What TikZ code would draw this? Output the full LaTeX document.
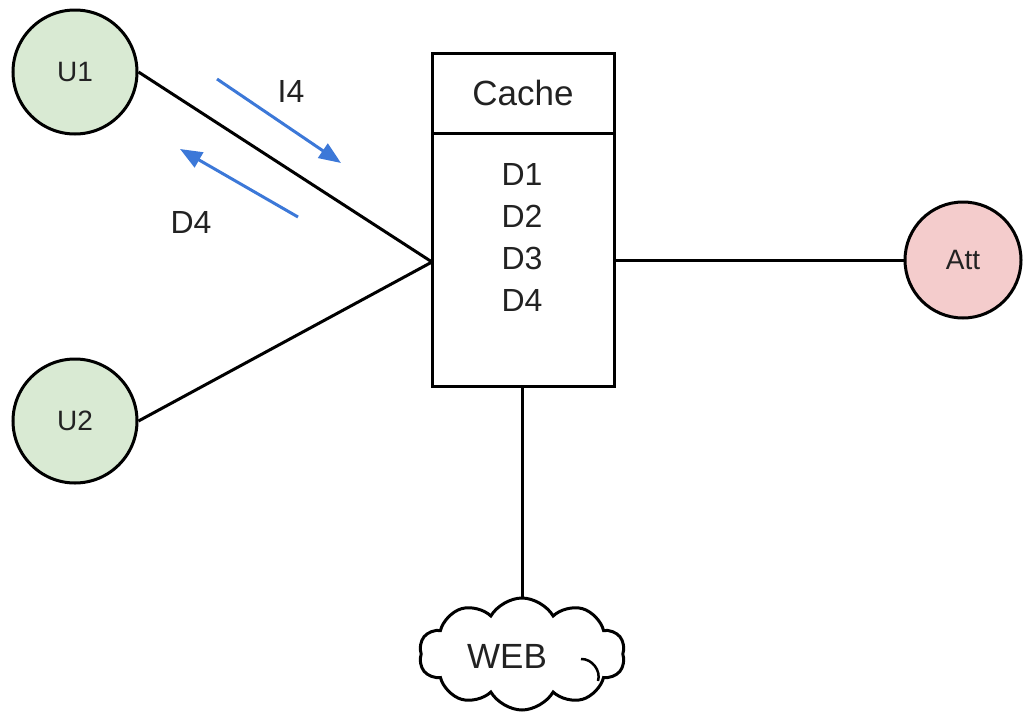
\documentclass[tikz,border=0pt]{standalone}
\usepackage{fontspec}
\setmainfont{Liberation Sans}
\usetikzlibrary{arrows.meta,shapes.symbols}
\definecolor{ugreen}{HTML}{D9EAD3}
\definecolor{apink}{HTML}{F4CCCC}
\definecolor{ablue}{HTML}{3C78D8}
\definecolor{txt}{HTML}{222222}
\tikzset{
  peer/.style={circle,draw=black,line width=3pt,minimum size=124pt,inner sep=0pt,text=txt,font=\fontsize{28pt}{34pt}\selectfont},
  conn/.style={draw=black,line width=3pt},
  flow/.style={draw=ablue,line width=3pt,-{Triangle[length=22pt,width=17pt]}},
  lbl/.style={text=txt,font=\fontsize{32pt}{38pt}\selectfont,inner sep=0pt,anchor=base},
}
\begin{document}
\begin{tikzpicture}[x=1pt,y=-1pt]
\useasboundingbox (0,0) rectangle (1023,715);
% nodes
\node[peer,fill=ugreen] (U1) at (75,72) {U1};
\node[peer,fill=ugreen] (U2) at (75,421) {U2};
\node[peer,fill=apink,minimum size=116pt] (Att) at (963,260) {Att};
\node[draw=black,line width=3pt,minimum width=182pt,minimum height=333pt,inner sep=0pt] (box) at (523,219.5) {};
\coordinate (hl) at (432,133);
\coordinate (hr) at (614,133);
\draw[conn] (hl) -- (hr);
\node[lbl,font=\fontsize{35pt}{40pt}\selectfont] (cache) at (523,105) {Cache};
\node[lbl] (d1) at (522,185) {D1};
\node[lbl] (d2) at (522,227) {D2};
\node[lbl] (d3) at (522,269) {D3};
\node[lbl] (d4) at (522,311) {D4};
\node[cloud,draw=black,line width=3pt,cloud puffs=10,cloud puff arc=120,aspect=1.8,minimum width=206pt,minimum height=112pt,inner sep=0pt] (web) at (522,654) {};
\node[lbl,font=\fontsize{35pt}{40pt}\selectfont] (webl) at (507,668) {WEB};
\coordinate (curlA) at (581,659);
\coordinate (curlB) at (598,681);
\draw[conn,line width=2.5pt] (curlA) to[bend left=55] (curlB);
% connectors
\coordinate (join) at (432,262);
\draw[conn] (U1.east) -- (join);
\draw[conn] (U2.east) -- (join);
\coordinate (attL) at (614,260);
\draw[conn] (attL) -- (Att.west);
\coordinate (webT) at (522,386);
\draw[conn] (webT) -- (web.north);
% flow arrows
\coordinate (i4s) at (217,79);
\coordinate (i4e) at (341,163);
\coordinate (d4s) at (298,217);
\coordinate (d4e) at (180,149);
\draw[flow] (i4s) -- (i4e);
\draw[flow] (d4s) -- (d4e);
\node[lbl] (li4) at (291,102) {I4};
\node[lbl] (ld4) at (191,233) {D4};
\end{tikzpicture}
\end{document}
